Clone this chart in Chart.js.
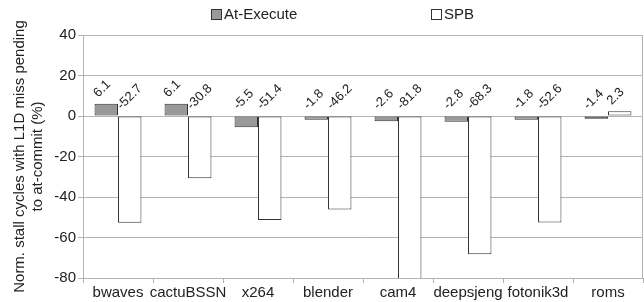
<!DOCTYPE html>
<html>
<head>
<meta charset="utf-8">
<script src="https://cdn.jsdelivr.net/npm/chart.js@4.4.1/dist/chart.umd.min.js"></script>
<style>
  html, body { margin: 0; padding: 0; background: #fff; }
  #wrap { width: 644px; height: 302px; }
</style>
</head>
<body>
<div id="wrap"><canvas id="chart" width="644" height="302"></canvas></div>
<script>
const benchmarks = ['bwaves', 'cactuBSSN', 'x264', 'blender', 'cam4', 'deepsjeng', 'fotonik3d', 'roms'];
const atExecute = [6.1, 6.1, -5.5, -1.8, -2.6, -2.8, -1.8, -1.4];
const spb = [-52.7, -30.8, -51.4, -46.2, -81.8, -68.3, -52.6, 2.3];
const yTicks = [40, 20, 0, -20, -40, -60, -80];
const seriesNames = ['At-Execute', 'SPB'];

const FONT = "'Liberation Sans', Arial, sans-serif";
const gridColor = '#b3b3b3';

// Legend oben, von Hand gezeichnet
const topLegend = {
  id: 'topLegend',
  afterDraw(chart) {
    const c = chart.ctx;
    const spots = [211, 431];
    c.save();
    c.font = '15px ' + FONT;
    c.textBaseline = 'middle';
    chart.data.datasets.forEach((ds, i) => {
      const x = spots[i];
      c.fillStyle = ds.backgroundColor;
      c.fillRect(x + 0.5, 9.5, 10, 10);
      c.strokeStyle = '#333';
      c.lineWidth = 1;
      c.strokeRect(x + 0.5, 9.5, 10, 10);
      c.fillStyle = '#222';
      c.fillText(ds.label, x + 13, 15);
    });
    c.restore();
  }
};

// gedrehte Werte über den Balken
const valueLabels = {
  id: 'valueLabels',
  afterDraw(chart) {
    const c = chart.ctx;
    const y = chart.scales.y;
    const font = Chart.helpers.toFont({ family: FONT, size: 13 });
    chart.data.datasets.forEach((ds, di) => {
      chart.getDatasetMeta(di).data.forEach((bar, i) => {
        const v = ds.data[i];
        const base = y.getPixelForValue(Math.max(v, 0));
        Chart.helpers.renderText(c, v.toFixed(1), 0, 0, font, {
          color: '#222',
          rotation: -Math.PI / 4,
          textAlign: 'left',
          textBaseline: 'alphabetic',
          translation: [bar.x - 8, base - 6]
        });
      });
    });
  }
};

// Rahmen rechts
const rightBorder = {
  id: 'rightBorder',
  afterDraw(chart) {
    const a = chart.chartArea;
    const c = chart.ctx;
    c.save();
    c.strokeStyle = gridColor;
    c.lineWidth = 1;
    c.beginPath();
    c.moveTo(Math.round(a.right) - 0.5, a.top);
    c.lineTo(Math.round(a.right) - 0.5, a.bottom);
    c.stroke();
    c.restore();
  }
};

new Chart(document.getElementById('chart').getContext('2d'), {
  type: 'bar',
  data: {
    labels: benchmarks,
    datasets: [
      {
        label: seriesNames[0],
        data: atExecute,
        backgroundColor: '#999999',
        borderColor: '#333333',
        borderWidth: 1,
        borderSkipped: false
      },
      {
        label: seriesNames[1],
        data: spb,
        backgroundColor: '#ffffff',
        borderColor: '#333333',
        borderWidth: 1,
        borderSkipped: false
      }
    ]
  },
  options: {
    responsive: false,
    animation: false,
    devicePixelRatio: 1,
    layout: { padding: { top: 35, right: 1, left: 0, bottom: 0 } },
    datasets: { bar: { categoryPercentage: 0.67, barPercentage: 1.0 } },
    plugins: {
      legend: { display: false },
      tooltip: { enabled: false }
    },
    scales: {
      x: {
        offset: true,
        grid: {
          display: true,
          offset: true,
          drawOnChartArea: false,
          drawTicks: true,
          tickLength: 5,
          color: gridColor
        },
        border: { display: true, color: gridColor },
        ticks: {
          color: '#222',
          font: { family: FONT, size: 15 },
          autoSkip: false,
          maxRotation: 0,
          minRotation: 0,
          padding: 1
        },
        afterFit: s => { s.height = 24; }
      },
      y: {
        min: -80,
        max: 40,
        afterBuildTicks: s => { s.ticks = yTicks.map(v => ({ value: v })); },
        grid: { color: gridColor, tickLength: 5 },
        border: { display: true, color: gridColor },
        ticks: {
          color: '#222',
          font: { family: FONT, size: 15 },
          padding: 2
        },
        title: {
          display: true,
          text: ['Norm. stall cycles with L1D miss pending', 'to at-commit (%)'],
          color: '#222',
          font: { family: FONT, size: 15, lineHeight: 1.2 },
          padding: { top: 11, bottom: 2 }
        },
        afterFit: s => { s.width = 83; }
      }
    }
  },
  plugins: [valueLabels, topLegend, rightBorder]
});
</script>
</body>
</html>
